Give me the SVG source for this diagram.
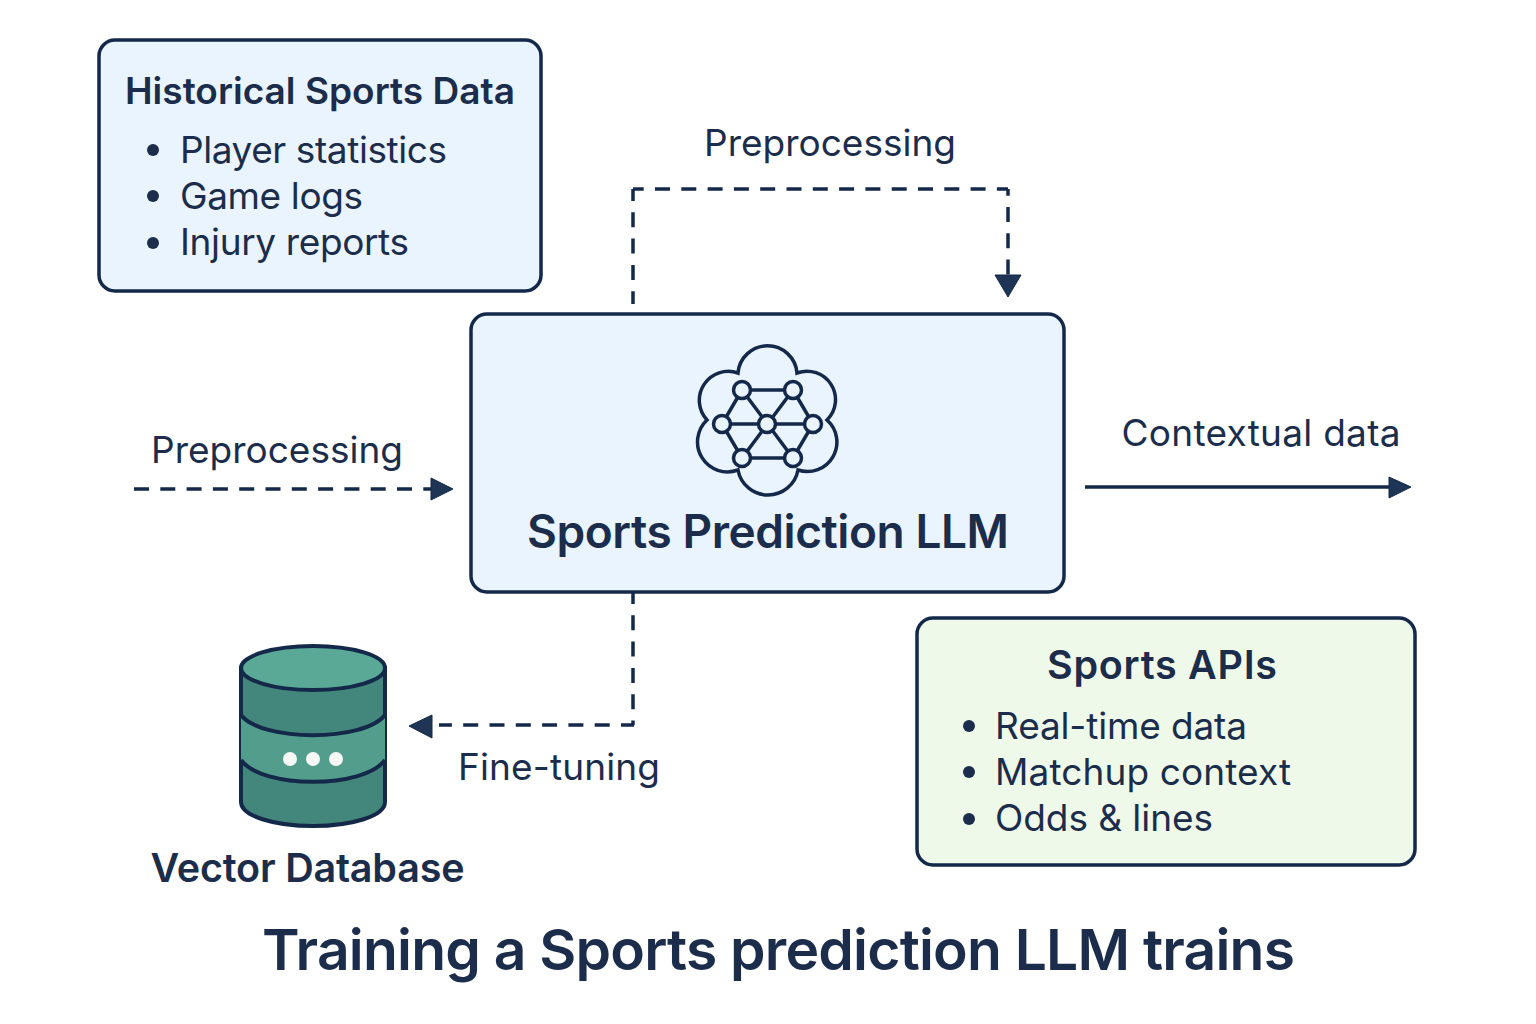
<svg xmlns="http://www.w3.org/2000/svg" width="1536" height="1024" viewBox="0 0 1536 1024">
<style>
text{font-family:Inter,"Liberation Sans",sans-serif;fill:#1b2d4b}
.b{fill:#eaf4fe;stroke:#14294a;stroke-width:3.5}
.t{font-size:37px;font-weight:600}
.l{font-size:37px;font-weight:400}
.c{fill:none;stroke:#14294a;stroke-width:3.5}
.d{stroke-dasharray:15 11.300}
.h{fill:#1f3555;stroke:#14294a;stroke-width:1}
.ic{fill:none;stroke:#14294a;stroke-width:3.5;stroke-linejoin:miter}
.n{fill:#eaf4fe;stroke:#14294a;stroke-width:3.5}
.dot{fill:#1b2d4b}
.db{stroke:#14294a;stroke-width:4}
</style>
<rect width="1536" height="1024" fill="#fff"/>
<g id="connectors">
<path class="c d" stroke-dashoffset="3" d="M633 189V304"/>
<path class="c d" stroke-dashoffset="4.300" d="M633 189H1008"/>
<path class="c d" stroke-dashoffset="8.300" d="M1008 189V275"/>
<path class="h" d="M995 275H1021L1008 297Z"/>
<path class="c d" d="M134 489H431"/>
<path class="h" d="M431 478L453 489L431 500Z"/>
<path class="c" d="M1085 487H1390"/>
<path class="h" d="M1389 477L1411 487L1389 498Z"/>
<path class="c d" stroke-dashoffset="4" d="M633 593V725"/>
<path class="c d" stroke-dashoffset="2" d="M634 725H439"/>
<path class="h" d="M432 715L409 726L432 738Z"/>
<text x="830" y="156" text-anchor="middle" class="l" textLength="252">Preprocessing</text>
<text x="277" y="463" text-anchor="middle" class="l" textLength="252">Preprocessing</text>
<text x="1261" y="446" text-anchor="middle" class="l" textLength="279">Contextual data</text>
<text x="559" y="780" text-anchor="middle" class="l" textLength="202">Fine-tuning</text>
</g>
<g id="historical">
<rect class="b" x="99" y="40" width="442" height="251" rx="16"/>
<text x="320" y="104" text-anchor="middle" class="t" textLength="390">Historical Sports Data</text>
<circle class="dot" cx="153" cy="150" r="6"/><circle class="dot" cx="153" cy="196" r="6"/><circle class="dot" cx="153" cy="243" r="6"/>
<text x="180" y="163" class="l" textLength="267">Player statistics</text>
<text x="180" y="209" class="l" textLength="183">Game logs</text>
<text x="180" y="255" class="l" textLength="229">Injury reports</text>
</g>
<g id="llm">
<rect class="b" x="471" y="314" width="593" height="278" rx="16"/>
<path class="ic" d="M738 373A29.600 29.600 0 0 1 797 373A28.500 28.500 0 0 1 827 420A29.500 29.500 0 0 1 798 470A30.500 30.500 0 0 1 738 470A30 30 0 0 1 707 420A29 29 0 0 1 738 373Z"/>
<path class="ic" d="M742 390H793M722 424H813M742 458H793M742 390L722 424L742 458L793 390L813 424L793 458L742 390"/>
<g class="n"><circle cx="742" cy="390" r="8.500"/><circle cx="793" cy="390" r="8.500"/><circle cx="722" cy="424" r="8.500"/><circle cx="767" cy="424" r="8.500"/><circle cx="813" cy="424" r="8.500"/><circle cx="742" cy="458" r="8.500"/><circle cx="793" cy="458" r="8.500"/></g>
<text x="768" y="548" text-anchor="middle" font-size="46" font-weight="600" textLength="482">Sports Prediction LLM</text>
</g>
<g id="apis">
<rect x="917" y="618" width="498" height="247" rx="16" fill="#eff9ea" stroke="#14294a" stroke-width="3.5"/>
<text x="1162" y="679" text-anchor="middle" class="t" style="font-size:39.500px" textLength="230">Sports APIs</text>
<circle class="dot" cx="969" cy="726" r="6"/><circle class="dot" cx="969" cy="772" r="6"/><circle class="dot" cx="969" cy="819" r="6"/>
<text x="995" y="739" class="l" textLength="252">Real-time data</text>
<text x="995" y="785" class="l" textLength="296">Matchup context</text>
<text x="995" y="831" class="l" textLength="218">Odds &amp; lines</text>
</g>
<g id="vector-db">
<path class="db" fill="#43867c" d="M241 668V802C241 816 274 826 313 826C352 826 385 816 385 802V668Z"/>
<path fill="#539d8d" d="M241 715C262 742 364 742 385 715V760C364 789 262 789 241 760Z"/>
<path class="db" fill="none" d="M241 715C262 742 364 742 385 715M241 760C262 789 364 789 385 760"/>
<ellipse class="db" fill="#5aa997" cx="313" cy="668" rx="72" ry="22"/>
<circle cx="290" cy="759" r="7" fill="#f6f8f6"/><circle cx="313" cy="759" r="7" fill="#f6f8f6"/><circle cx="336" cy="759" r="7" fill="#f6f8f6"/>
<text x="307.500" y="882" text-anchor="middle" class="t" style="font-size:39.500px" textLength="314">Vector Database</text>
</g>
<text id="title" x="778.500" y="970" text-anchor="middle" font-size="57" font-weight="600" textLength="1033">Training a Sports prediction LLM trains</text>
</svg>
